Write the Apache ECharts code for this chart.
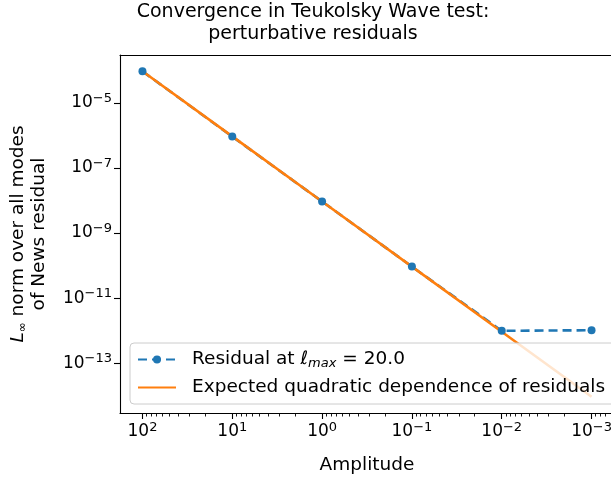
<!DOCTYPE html>
<html>
<head>
<meta charset="utf-8">
<script src="https://cdn.jsdelivr.net/npm/echarts@6/dist/echarts.min.js"></script>
<style>
  html, body { margin: 0; padding: 0; background: #fff; }
  #teukolsky-chart { width: 611px; height: 479px; }
</style>
</head>
<body>
<div id="teukolsky-chart"></div>
<script>
const amplitudes = [100, 10, 1, 0.1, 0.01, 0.001];
const residual = [9.3e-5, 9.2e-7, 9.3e-9, 9.3e-11, 9.9e-13, 1.03e-12];
const expected = [9.3e-5, 9.3e-7, 9.3e-9, 9.3e-11, 9.3e-13, 9.3e-15];
const xTicks = [100, 10, 1, 0.1, 0.01, 0.001];
const yTicks = [1e-5, 1e-7, 1e-9, 1e-11, 1e-13];

const font = "DejaVu Sans";
const xMin = Math.pow(10, -3.25), xMax = Math.pow(10, 2.25);
const yMin = Math.pow(10, -14.53), yMax = Math.pow(10, -3.53);

// minor ticks at 2..9 x 10^n inside the x range
const xMinor = [];
for (let n = -4; n <= 2; n++) {
  for (let k = 2; k <= 9; k++) {
    const v = k * Math.pow(10, n);
    if (v > xMin && v < xMax) xMinor.push(v);
  }
}

function powLabel(value) {
  const e = Math.round(Math.log10(value));
  return "{b|10}{s|" + String(e).replace("-", "\u2212") + "}";
}
const powRich = {
  b: { fontSize: 17, fontFamily: font, color: "#000", lineHeight: 22 },
  s: { fontSize: 13, fontFamily: font, color: "#000", lineHeight: 13, verticalAlign: "top" }
};

const chart = echarts.init(document.getElementById("teukolsky-chart"), null, { renderer: "canvas" });
chart.setOption({
  animation: false,
  backgroundColor: "#fff",
  title: {
    text: "Convergence in Teukolsky Wave test:\nperturbative residuals",
    left: 313,
    top: 1,
    padding: 0,
    textAlign: "center",
    textStyle: { fontFamily: font, fontSize: 19, fontWeight: "normal", color: "#000", lineHeight: 22 }
  },
  grid: {
    left: 120, top: 55, width: 494, height: 358,
    outerBoundsMode: "none",
    containLabel: false,
    show: false
  },
  legend: {
    left: 130,
    top: 343,
    orient: "vertical",
    itemWidth: 38,
    itemHeight: 10,
    itemGap: 7,
    padding: [6, 12, 6, 7],
    backgroundColor: "rgba(255,255,255,0.8)",
    borderColor: "#cccccc",
    borderWidth: 1,
    borderRadius: 4,
    data: [
      { name: "Residual" },
      { name: "Expected", itemStyle: { opacity: 0 } }
    ],
    formatter: function (name) {
      if (name === "Residual") return "Residual at {it|\u2113}{sub|max} = 20.0";
      return "Expected quadratic dependence of residuals";
    },
    textStyle: {
      fontFamily: font, fontSize: 18.5, color: "#000", padding: [0, 0, 0, 11], lineHeight: 21,
      rich: {
        it: { fontFamily: font, fontSize: 18.5, fontStyle: "italic", color: "#000" },
        sub: { fontFamily: font, fontSize: 13, fontStyle: "italic", color: "#000", padding: [8, 0, 0, 0] }
      }
    }
  },
  xAxis: [
    {
      type: "log", logBase: 10, inverse: true, min: xMin, max: xMax,
      name: "Amplitude", nameLocation: "middle", nameGap: 43,
      nameTextStyle: { fontFamily: font, fontSize: 18.5, color: "#000" },
      axisLine: { show: true, lineStyle: { color: "#000", width: 1.1 } },
      axisTick: { show: true, length: 6, customValues: xTicks, lineStyle: { color: "#000", width: 1.1 } },
      axisLabel: { customValues: xTicks, margin: 8, formatter: powLabel, rich: powRich },
      splitLine: { show: false },
      minorTick: { show: false }
    },
    {
      type: "log", logBase: 10, inverse: true, min: xMin, max: xMax,
      position: "bottom",
      axisLine: { show: false },
      axisTick: { show: true, length: 3.5, customValues: xMinor, lineStyle: { color: "#000", width: 0.9 } },
      axisLabel: { show: false },
      splitLine: { show: false }
    },
    {
      type: "log", logBase: 10, inverse: true, min: xMin, max: xMax,
      position: "top",
      axisLine: { show: true, lineStyle: { color: "#000", width: 1.1 } },
      axisTick: { show: false },
      axisLabel: { show: false },
      splitLine: { show: false }
    }
  ],
  yAxis: {
    type: "log", logBase: 10, min: yMin, max: yMax,
    name: "{it|L}{sub|\u221e} norm over all modes\nof News residual",
    nameLocation: "middle",
    nameGap: 70,
    nameTextStyle: {
      fontFamily: font, fontSize: 18.5, color: "#000", lineHeight: 21,
      rich: {
        it: { fontFamily: font, fontSize: 18.5, fontStyle: "italic", color: "#000" },
        sub: { fontFamily: font, fontSize: 12, color: "#000", padding: [8, 0, 0, 0] }
      }
    },
    axisLine: { show: true, lineStyle: { color: "#000", width: 1.1 } },
    axisTick: { show: true, length: 6, customValues: yTicks, lineStyle: { color: "#000", width: 1.1 } },
    axisLabel: { customValues: yTicks, margin: 8, formatter: powLabel, rich: powRich },
    splitLine: { show: false }
  },
  series: [
    {
      name: "Residual",
      type: "line",
      data: amplitudes.map((a, i) => [a, residual[i]]),
      symbol: "circle",
      symbolSize: 8,
      showAllSymbol: true,
      color: "#1f77b4",
      lineStyle: { color: "#1f77b4", width: 2.6, type: [9, 5] },
      itemStyle: { color: "#1f77b4" }
    },
    {
      name: "Expected",
      type: "line",
      data: amplitudes.map((a, i) => [a, expected[i]]),
      symbol: "none",
      color: "#ff7f0e",
      lineStyle: { color: "#ff7f0e", width: 2.6 }
    }
  ]
});
</script>
</body>
</html>
